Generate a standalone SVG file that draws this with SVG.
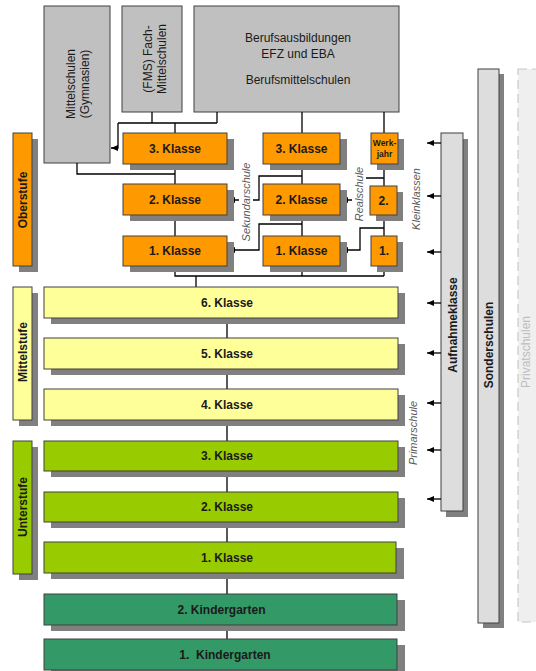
<svg xmlns="http://www.w3.org/2000/svg" width="536" height="671" viewBox="0 0 536 671">
<defs>
<marker id="ah" markerWidth="7" markerHeight="6" refX="7" refY="3" orient="auto" markerUnits="userSpaceOnUse">
<path d="M0,0 L7,3 L0,6 z" fill="#000"/>
</marker>
<style>
.box{stroke:#404040;stroke-width:1}
.sh{fill:#808080}
.gray{fill:#c0c0c0}
.or{fill:#ff9900}
.ye{fill:#ffff99}
.gr{fill:#99cc00}
.dg{fill:#339966}
.lg{fill:#dddddd}
.t{font-family:"Liberation Sans",Arial,sans-serif;font-size:12px;fill:#1a1a1a;text-anchor:middle;dominant-baseline:central}
.b{font-weight:bold}
.it{font-family:"Liberation Sans",Arial,sans-serif;font-size:11px;font-style:italic;fill:#595959;text-anchor:middle;dominant-baseline:central}
.c{fill:none;stroke:#000;stroke-width:1.3}
.a{fill:none;stroke:#000;stroke-width:1.3;marker-end:url(#ah)}
</style>
</defs>
<rect width="536" height="671" fill="#fff"/>

<g id="privatschulen">
<rect x="518" y="69" width="24" height="553" fill="#efefef" stroke="#c8c8c8" stroke-width="1.2" stroke-dasharray="9,5"/>
<text class="t" x="526" y="352" transform="rotate(-90 526 352)" style="fill:#bdbdbd">Privatschulen</text>
</g>
<g id="sonderschulen">
<rect class="sh" x="483" y="74" width="21" height="554"/>
<rect class="box lg" x="478" y="69" width="21" height="554"/>
<text class="t b" x="489" y="345" transform="rotate(-90 489 345)">Sonderschulen</text>
</g>
<g id="aufnahmeklasse">
<rect class="sh" x="446" y="139" width="22" height="378"/>
<rect class="box lg" x="441" y="133" width="22" height="378"/>
<text class="t b" x="453" y="325" transform="rotate(-90 453 325)">Aufnahmeklasse</text>
</g>

<g id="mittelschulen">
<rect class="box gray" x="44" y="6" width="66" height="157"/>
<text class="t" x="71" y="84" transform="rotate(-90 71 84)">Mittelschulen</text>
<text class="t" x="85" y="84" transform="rotate(-90 85 84)">(Gymnasien)</text>
</g>
<g id="fms">
<rect class="box gray" x="122" y="6" width="60" height="106"/>
<text class="t" x="148" y="59" transform="rotate(-90 148 59)">(FMS) Fach-</text>
<text class="t" x="162" y="59" transform="rotate(-90 162 59)">Mittelschulen</text>
</g>
<g id="berufsausbildung">
<rect class="box gray" x="194" y="6" width="205" height="106"/>
<text class="t" x="298" y="38">Berufsausbildungen</text>
<text class="t" x="298" y="54">EFZ und EBA</text>
<text class="t" x="298" y="80">Berufsmittelschulen</text>
</g>

<g id="connectors">
<path class="c" d="M152,112 V123 M217,112 V123 M118,123 H217 M175,123 V133 M302,112 V133 M384,112 V133"/>
<path class="a" d="M118,123 V148 H111"/>
<path class="c" d="M77,163 V174 H175 M175,164 V184 M175,215 V236 M175,266 V276 H384 M196,276 V287 M302,266 V276 M384,266 V276"/>
<path class="c" d="M302,164 V184 M384,164 V186 M302,215 V236 M384,215 V236"/>
<path class="a" d="M302,176 H259 V200 H228"/>
<path class="a" d="M384,178 H359 V200 H341"/>
<path class="a" d="M302,224 H259 V250 H228"/>
<path class="a" d="M384,228 H360 V250 H341"/>
<path class="c" d="M227,318 V338 M227,369 V389 M227,420 V441 M227,471 V492 M227,522 V542 M227,573 V594 M227,625 V639"/>
<path class="a" d="M441,143 H427"/>
<path class="a" d="M441,196 H427"/>
<path class="a" d="M441,252 H427"/>
<path class="a" d="M441,303 H427"/>
<path class="a" d="M441,353 H427"/>
<path class="a" d="M441,403 H427"/>
<path class="a" d="M441,450 H427"/>
<path class="a" d="M441,499 H427"/>
</g>

<g id="label-sekundarschule">
<rect x="239" y="162" width="14" height="81" fill="#fff"/>
<text class="it" x="246" y="202" transform="rotate(-90 246 202)">Sekundarschule</text>
</g>
<g id="label-realschule">
<rect x="352" y="166" width="14" height="57" fill="#fff"/>
<text class="it" x="359" y="194" transform="rotate(-90 359 194)">Realschule</text>
</g>
<g id="label-kleinklassen">
<text class="it" x="416" y="199" transform="rotate(-90 416 199)">Kleinklassen</text>
</g>
<g id="label-primarschule">
<text class="it" x="413" y="433" transform="rotate(-90 413 433)">Primarschule</text>
</g>

<g id="oberstufe">
<rect class="sh" x="19" y="139" width="19" height="133"/>
<rect class="box or" x="13" y="133" width="19" height="133"/>
<text class="t b" x="22.5" y="200" transform="rotate(-90 22.5 200)">Oberstufe</text>
</g>
<g id="mittelstufe">
<rect class="sh" x="19" y="293" width="19" height="133"/>
<rect class="box ye" x="13" y="287" width="19" height="133"/>
<text class="t b" x="22.5" y="352" transform="rotate(-90 22.5 352)">Mittelstufe</text>
</g>
<g id="unterstufe">
<rect class="sh" x="19" y="447" width="19" height="133"/>
<rect class="box gr" x="13" y="441" width="19" height="133"/>
<text class="t b" x="22.5" y="507" transform="rotate(-90 22.5 507)">Unterstufe</text>
</g>

<g id="sek-3">
<rect class="sh" x="130" y="139" width="104" height="31"/>
<rect class="box or" x="123" y="133" width="104" height="31"/>
<text class="t b" x="175" y="149">3. Klasse</text>
</g>
<g id="sek-2">
<rect class="sh" x="130" y="190" width="104" height="31"/>
<rect class="box or" x="123" y="184" width="104" height="31"/>
<text class="t b" x="175" y="200">2. Klasse</text>
</g>
<g id="sek-1">
<rect class="sh" x="130" y="242" width="104" height="30"/>
<rect class="box or" x="123" y="236" width="104" height="30"/>
<text class="t b" x="175" y="251">1. Klasse</text>
</g>
<g id="real-3">
<rect class="sh" x="270" y="139" width="77" height="31"/>
<rect class="box or" x="263" y="133" width="77" height="31"/>
<text class="t b" x="301.5" y="149">3. Klasse</text>
</g>
<g id="real-2">
<rect class="sh" x="270" y="190" width="77" height="31"/>
<rect class="box or" x="263" y="184" width="77" height="31"/>
<text class="t b" x="301.5" y="200">2. Klasse</text>
</g>
<g id="real-1">
<rect class="sh" x="270" y="242" width="77" height="30"/>
<rect class="box or" x="263" y="236" width="77" height="30"/>
<text class="t b" x="301.5" y="251">1. Klasse</text>
</g>
<g id="werkjahr">
<rect class="sh" x="377" y="139" width="27" height="31"/>
<rect class="box or" x="371" y="133" width="27" height="31"/>
<text class="t b" x="384.5" y="142.5" style="font-size:8.5px">Werk-</text>
<text class="t b" x="384.5" y="153.5" style="font-size:8.5px">jahr</text>
</g>
<g id="klein-2">
<rect class="sh" x="376" y="192" width="27" height="29"/>
<rect class="box or" x="370" y="186" width="27" height="29"/>
<text class="t b" x="383.5" y="200.5">2.</text>
</g>
<g id="klein-1">
<rect class="sh" x="377" y="242" width="26" height="30"/>
<rect class="box or" x="371" y="236" width="26" height="30"/>
<text class="t b" x="384" y="251">1.</text>
</g>

<g id="prim-6">
<rect class="sh" x="51" y="293" width="354" height="31"/>
<rect class="box ye" x="44" y="287" width="354" height="31"/>
<text class="t b" x="227" y="302.5">6. Klasse</text>
</g>
<g id="prim-5">
<rect class="sh" x="51" y="344" width="354" height="31"/>
<rect class="box ye" x="44" y="338" width="354" height="31"/>
<text class="t b" x="227" y="353.5">5. Klasse</text>
</g>
<g id="prim-4">
<rect class="sh" x="51" y="395" width="354" height="31"/>
<rect class="box ye" x="44" y="389" width="354" height="31"/>
<text class="t b" x="227" y="404.5">4. Klasse</text>
</g>
<g id="prim-3">
<rect class="sh" x="51" y="447" width="354" height="30"/>
<rect class="box gr" x="44" y="441" width="354" height="30"/>
<text class="t b" x="227" y="456">3. Klasse</text>
</g>
<g id="prim-2">
<rect class="sh" x="51" y="498" width="354" height="30"/>
<rect class="box gr" x="44" y="492" width="354" height="30"/>
<text class="t b" x="227" y="507">2. Klasse</text>
</g>
<g id="prim-1">
<rect class="sh" x="51" y="548" width="353" height="31"/>
<rect class="box gr" x="44" y="542" width="352" height="31"/>
<text class="t b" x="227" y="557.5">1. Klasse</text>
</g>
<g id="kg-2">
<rect class="sh" x="51" y="600" width="354" height="31"/>
<rect class="box dg" x="44" y="594" width="353" height="31"/>
<text class="t b" x="221.5" y="609.5">2. Kindergarten</text>
</g>
<g id="kg-1">
<rect class="sh" x="51" y="645" width="354" height="31"/>
<rect class="box dg" x="44" y="639" width="353" height="31"/>
<text class="t b" x="225" y="654.5" xml:space="preserve">1.  Kindergarten</text>
</g>
</svg>
